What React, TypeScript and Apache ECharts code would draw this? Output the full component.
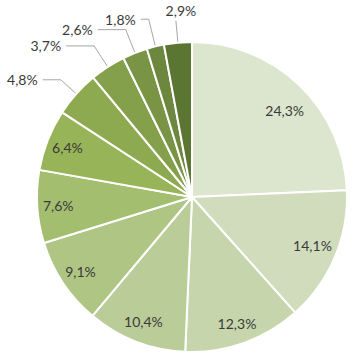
import React, { useEffect, useRef } from "react";
import * as echarts from "echarts";

const categories = ["A", "B", "C", "D", "E", "F", "G", "H", "I", "J", "K", "L"];
const values = [24.3, 14.1, 12.3, 10.4, 9.1, 7.6, 6.4, 4.8, 3.7, 2.6, 1.8, 2.9];
const colors = [
  "#dce5cd", "#d1dcbd", "#c6d5ab", "#bacc98", "#aec584", "#a4be70",
  "#98b458", "#8eaa50", "#84a04b", "#7a9446", "#6d873f", "#5b7633",
];
const smallThreshold = 5;
// leader-line lengths for outside labels (style), indexed like values
const lineLen = [0, 0, 0, 0, 0, 0, 0, 21, 25, 25, 28, 22];
const lineLen2 = [0, 0, 0, 0, 0, 0, 0, 18, 28, 28, 8, 0];

const fmt = (v: number) => v.toFixed(1).replace(".", ",") + "%";

export default function App() {
  const ref = useRef<HTMLDivElement>(null);
  useEffect(() => {
    if (!ref.current) return;
    const chart = echarts.init(ref.current, undefined, { renderer: "svg" });
    const textStyle = {
      fontFamily: "Lato, 'Open Sans', sans-serif",
      fontSize: 14,
      color: "#3a3a3a",
    };
    const lastIndex = values.length - 1;
    chart.setOption({
      animation: false,
      series: [
        {
          type: "pie",
          center: [192, 197],
          radius: 155,
          startAngle: 90,
          clockwise: true,
          avoidLabelOverlap: false,
          itemStyle: { borderColor: "#ffffff", borderWidth: 2 },
          label: {
            show: true,
            position: "outside",
            ...textStyle,
            formatter: (p: any) => fmt(p.value),
          },
          labelLine: {
            show: true,
            lineStyle: { color: "#a6a6a6", width: 1 },
          },
          labelLayout: (p: any) =>
            p.dataIndex === lastIndex
              ? { align: "center", verticalAlign: "bottom", dx: 10, dy: -3 }
              : {},
          data: categories.map((c, i) => ({
            name: c,
            value: values[i],
            itemStyle: { color: colors[i] },
            label: { show: values[i] < smallThreshold },
            labelLine: {
              show: values[i] < smallThreshold,
              length: lineLen[i],
              length2: lineLen2[i],
            },
          })),
        },
        {
          type: "pie",
          center: [192, 197],
          radius: [0, 262],
          startAngle: 90,
          clockwise: true,
          silent: true,
          itemStyle: { color: "rgba(0,0,0,0)", borderWidth: 0 },
          label: {
            show: true,
            position: "inside",
            ...textStyle,
            formatter: (p: any) => fmt(p.value),
          },
          labelLayout: (p: any) =>
            p.dataIndex === 0
              ? { dy: 10 }
              : p.dataIndex === 1
              ? { dx: -3, dy: -4 }
              : {},
          labelLine: { show: false },
          data: categories.map((c, i) => ({
            name: c,
            value: values[i],
            label: { show: values[i] >= smallThreshold },
          })),
        },
      ],
    });
    return () => chart.dispose();
  }, []);
  return (
    <div
      ref={ref}
      style={{ position: "absolute", left: 0, top: 0, width: 357, height: 361 }}
    />
  );
}
